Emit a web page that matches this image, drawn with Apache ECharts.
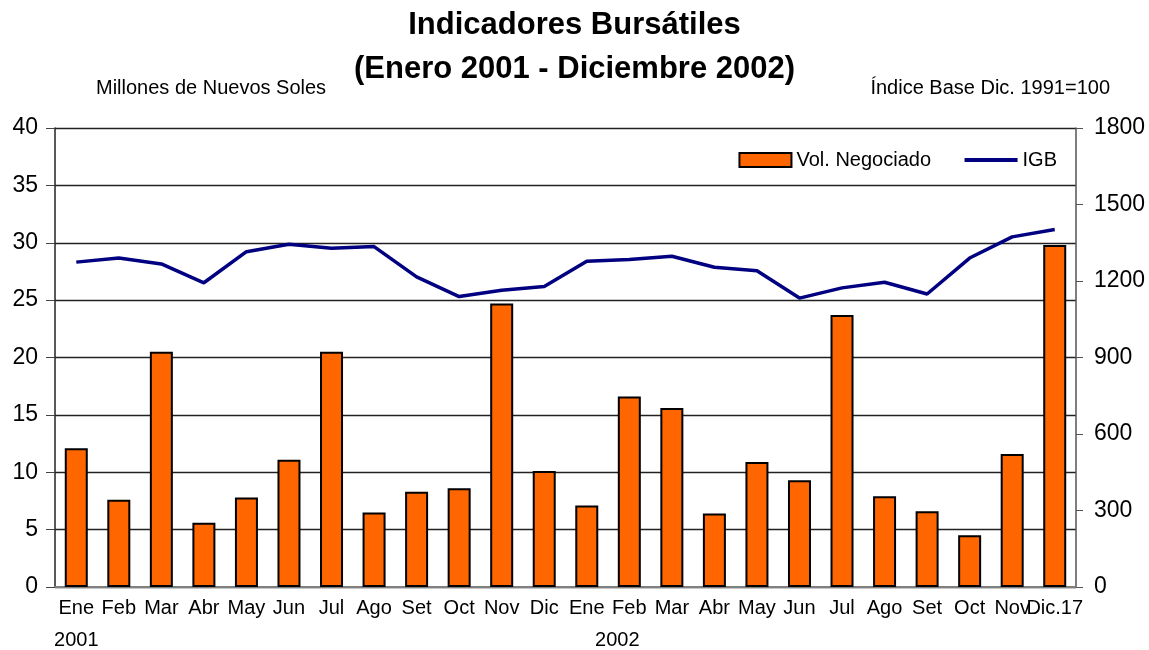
<!DOCTYPE html>
<html>
<head>
<meta charset="utf-8">
<script src="https://cdn.jsdelivr.net/npm/echarts@6/dist/echarts.min.js"></script>
<style>
  html, body { margin: 0; padding: 0; background: #fff; }
  #main { width: 1149px; height: 650px; }
</style>
</head>
<body>
<div id="main"></div>
<script>
var months = ['Ene', 'Feb', 'Mar', 'Abr', 'May', 'Jun', 'Jul', 'Ago', 'Set', 'Oct', 'Nov', 'Dic',
              'Ene', 'Feb', 'Mar', 'Abr', 'May', 'Jun', 'Jul', 'Ago', 'Set', 'Oct', 'Nov', 'Dic.17'];
var years = ['2001', '2002'];
// millones de nuevos soles
var volNegociado = [12.1, 7.6, 20.5, 5.6, 7.8, 11.1, 20.5, 6.5, 8.3, 8.6, 24.7, 10.1,
                    7.1, 16.6, 15.6, 6.4, 10.9, 9.3, 23.7, 7.9, 6.6, 4.5, 11.6, 29.8];
// indice base dic. 1991 = 100
var igb = [1274, 1290, 1267, 1193, 1315, 1344, 1328, 1335, 1216, 1139, 1164, 1178,
           1277, 1284, 1297, 1254, 1240, 1133, 1173, 1195, 1149, 1290, 1373, 1402];
var leftTicks = [0, 40, 5];
var rightTicks = [0, 1800, 300];

var font = 'Liberation Sans, Arial, sans-serif';
var chart = echarts.init(document.getElementById('main'));

var option = {
    backgroundColor: '#fff',
    textStyle: { fontFamily: font },
    title: [{
        text: 'Indicadores Bursátiles\n(Enero 2001 - Diciembre 2002)',
        left: 'center',
        top: 3,
        padding: 0,
        textStyle: { fontFamily: font, fontSize: 31, fontWeight: 'bold', color: '#000', lineHeight: 44 }
    }, {
        text: 'Millones de Nuevos Soles',
        left: 91,
        top: 73,
        textStyle: { fontFamily: font, fontSize: 20, fontWeight: 'normal', color: '#000' }
    }, {
        text: 'Índice Base Dic. 1991=100',
        right: 34,
        top: 73,
        textStyle: { fontFamily: font, fontSize: 20, fontWeight: 'normal', color: '#000' }
    }],
    legend: [{
        right: 213,
        top: 145,
        itemWidth: 52,
        itemHeight: 14,
        textStyle: { fontFamily: font, fontSize: 20, color: '#000' },
        data: [{ name: 'Vol. Negociado', icon: 'rect' }]
    }, {
        right: 87,
        top: 145,
        itemWidth: 53,
        itemHeight: 4,
        textStyle: { fontFamily: font, fontSize: 20, color: '#000' },
        data: [{ name: 'IGB', icon: 'rect' }],
        itemStyle: { color: '#000080', borderWidth: 0 }
    }],
    grid: {
        left: 55,
        right: 73,
        top: 128,
        bottom: 62
    },
    xAxis: {
        type: 'category',
        data: months,
        axisLine: { lineStyle: { color: '#808080', width: 2 } },
        axisTick: { show: false },
        axisLabel: {
            color: '#000',
            fontSize: 20,
            margin: 4,
            interval: 0,
            formatter: function (v, i) {
                if (i === 0) return '{m|' + v + '}\n{y|' + years[0] + '}';
                if (i === 13) return '{m|' + v + '}\n{y2|' + years[1] + '}';
                return '{m|' + v + '}';
            },
            rich: {
                m: { fontFamily: font, fontSize: 20, color: '#000', lineHeight: 34 },
                y: { fontFamily: font, fontSize: 20, color: '#000', lineHeight: 30 },
                y2: { fontFamily: font, fontSize: 20, color: '#000', lineHeight: 30, padding: [0, 24, 0, 0] }
            }
        }
    },
    yAxis: [{
        type: 'value',
        min: leftTicks[0],
        max: leftTicks[1],
        interval: leftTicks[2],
        axisLine: { show: true, lineStyle: { color: '#222', width: 1.5 } },
        axisTick: { show: true, length: 9, lineStyle: { color: '#444' } },
        axisLabel: { color: '#000', fontSize: 23, margin: 17 },
        splitLine: { lineStyle: { color: '#222', width: 1.3 } }
    }, {
        type: 'value',
        min: rightTicks[0],
        max: rightTicks[1],
        interval: rightTicks[2],
        axisLine: { show: true, lineStyle: { color: '#555', width: 1.5 } },
        axisTick: { show: true, length: 7, lineStyle: { color: '#555' } },
        axisLabel: {
            color: '#000',
            fontSize: 23,
            margin: 18,
            formatter: function (v) { return String(v); }
        },
        splitLine: { show: false }
    }],
    series: [{
        name: 'Vol. Negociado',
        type: 'bar',
        yAxisIndex: 0,
        barWidth: 23,
        itemStyle: { color: '#FF6600', borderColor: '#000', borderWidth: 2 },
        data: volNegociado
    }, {
        name: 'IGB',
        type: 'line',
        yAxisIndex: 1,
        symbol: 'none',
        lineStyle: { color: '#000080', width: 3.5 },
        itemStyle: { color: '#000080' },
        data: igb
    }]
};

chart.setOption(option);
</script>
</body>
</html>
